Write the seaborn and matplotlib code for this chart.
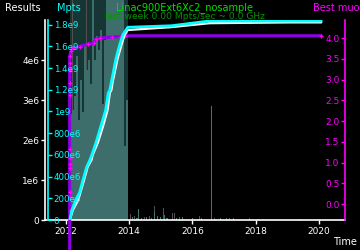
import matplotlib
matplotlib.use('Agg')
import matplotlib.pyplot as plt
import seaborn as sns

sns.set_style('dark')
plt.rcParams['font.family'] = ['DejaVu Sans']

# ---------------- data ----------------
# cumulative results (Results axis)
res_t = [2012.126, 2012.22, 2012.39, 2012.60, 2012.69, 2012.81, 2012.85, 2013.01, 2013.17,
         2013.32, 2013.39, 2013.44, 2013.48, 2013.64, 2013.76, 2013.86, 2013.96, 2015.31,
         2016.54, 2019.07, 2020.08]
res_v = [0, 0.25e6, 0.5e6, 1.07e6, 1.33e6, 1.5e6, 1.63e6, 1.93e6, 2.33e6,
         2.75e6, 3.18e6, 3.25e6, 3.45e6, 4.05e6, 4.38e6, 4.63e6, 4.75e6, 4.82e6,
         4.92e6, 4.94e6, 4.94e6]

# cumulative Mpts
mpts_t = [2012.126, 2012.19, 2012.315, 2012.44, 2012.54, 2012.66, 2012.76, 2012.82, 2012.95,
          2013.10, 2013.26, 2013.34, 2013.39, 2013.44, 2013.59, 2013.70, 2013.80, 2013.86,
          2013.96, 2015.34, 2016.54, 2020.08]
mpts_v = [0, 0.092e9, 0.184e9, 0.258e9, 0.369e9, 0.49e9, 0.553e9, 0.599e9, 0.71e9,
          0.857e9, 1.014e9, 1.17e9, 1.198e9, 1.272e9, 1.493e9, 1.613e9, 1.705e9, 1.733e9,
          1.776e9, 1.79e9, 1.834e9, 1.834e9]

# best muon
muon_t = [2012.12] * 13 + [2012.16, 2012.22, 2012.44, 2012.69, 2012.88, 2012.95, 2013.07,
                           2013.45, 2013.70, 2013.86, 2020.08]
muon_v = [-1.2, -0.17, 0.17, 0.29, 0.87, 0.97, 1.1, 1.33, 2.63, 2.92, 3.24, 3.41, 3.56,
          3.68, 3.77, 3.80, 3.86, 3.88, 3.99, 4.00, 4.03, 4.04, 4.06, 4.06]

# weekly activity (fraction of plot height)
bin_t = [2012.16, 2012.22, 2012.28, 2012.35, 2012.41, 2012.47, 2012.54, 2012.60, 2012.66,
         2012.73, 2012.79, 2012.85, 2012.92, 2012.98, 2013.04, 2013.10, 2013.17, 2013.23,
         2013.29, 2013.36, 2013.42, 2013.48, 2013.55, 2013.61, 2013.67, 2013.74, 2013.80,
         2013.86, 2013.92]
dark_h = [1.2, 1.2, 1.2, 1.2, 1.2, 1.2, 1.2, 1.2, 1.2, 1.2, 1.2, 1.2, 1.2, 1.2, 1.2,
          1.2, 1.2, 1.2, 1.2, 1.2, 1.2, 1.2, 1.2, 1.2, 1.2, 1.2, 1.2, 1.2, 1.2]
light_h = [0.53, 0.55, 0.62, 0.82, 0.50, 0.70, 0.54, 0.88, 0.75, 0.80, 0.68, 1.2, 0.80,
           0.92, 0.85, 0.95, 0.58, 0.90, 1.2, 1.2, 1.2, 1.2, 1.2, 1.2, 1.2, 1.2, 1.2,
           0.37, 0.60]
gray_t = [2011.97, 2012.22, 2012.35, 2012.66, 2014.05, 2014.18, 2014.49, 2014.65, 2014.81,
          2014.88, 2015.04, 2015.10, 2015.26, 2015.38, 2015.44, 2015.60, 2015.93, 2016.23,
          2016.43, 2016.70, 2017.17, 2017.80, 2018.46]
gray_h = [0.8, 1.2, 1.2, 1.2, 0.03, 0.02, 0.015, 0.02, 0.07,
          0.055, 0.065, 0.06, 0.045, 0.035, 0.035, 0.015, 0.07, 0.02,
          0.10, 0.01, 0.01, 0.01, 0.025]
teal_t = [2014.10, 2014.25, 2014.31, 2014.40, 2014.55, 2014.70, 2014.81, 2014.90, 2015.00,
          2015.12, 2015.20, 2015.50, 2015.70, 2016.00, 2016.30, 2016.62, 2016.90, 2017.08,
          2017.30, 2018.06, 2019.38]
teal_h = [0.015, 0.012, 0.055, 0.012, 0.015, 0.012, 0.04, 0.02, 0.015,
          0.025, 0.012, 0.012, 0.015, 0.012, 0.01, 0.57, 0.01, 0.01,
          0.008, 0.005, 0.005]

years = [2012, 2014, 2016, 2018, 2020]
res_ticks = [0, 1e6, 2e6, 3e6, 4e6]
res_labels = ['0', '1e6', '2e6', '3e6', '4e6']
mpts_ticks = [0, 0.2e9, 0.4e9, 0.6e9, 0.8e9, 1.0e9, 1.2e9, 1.4e9, 1.6e9, 1.8e9]
mpts_labels = ['0', '200e6', '400e6', '600e6', '800e6', '1e9', '1.2e9', '1.4e9', '1.6e9', '1.8e9']
muon_ticks = [0.0, 0.5, 1.0, 1.5, 2.0, 2.5, 3.0, 3.5, 4.0]
muon_labels = ['0.0', '0.5', '1.0', '1.5', '2.0', '2.5', '3.0', '3.5', '4.0']

# ---------------- figure ----------------
fig = plt.figure(figsize=(3.6, 2.5), dpi=100, facecolor='black')
rect = [45 / 360, 30 / 250, 300 / 360, 200 / 250]
ax_b = fig.add_axes(rect)
ax_b.set_facecolor('black')
ax_b.grid(False)

ax_b.bar(bin_t, dark_h, width=0.064, color='#163636', linewidth=0, clip_on=False)
ax_b.bar(gray_t, gray_h, width=0.024, color='#505050', linewidth=0, clip_on=False)
ax_b.bar(bin_t, light_h, width=0.064, color='#3d6e6c', linewidth=0, clip_on=False)
ax_b.bar(teal_t, teal_h, width=0.036, color='#3f7674', linewidth=0, clip_on=False)
ax_b.set_ylim(0, 1)
ax_b.yaxis.set_visible(False)
for s in ['left', 'right', 'top']:
    ax_b.spines[s].set_visible(False)
ax_b.spines['bottom'].set_color('white')
ax_b.spines['bottom'].set_linewidth(1.2)
ax_b.set_xticks(years)
ax_b.set_xticklabels([str(y) for y in years])
ax_b.tick_params(axis='x', colors='white', labelsize=6.5, length=3, width=1, pad=2,
                 direction='out', bottom=True)

# best muon axis (right, labels inside)
ax_m = ax_b.twinx()
sns.lineplot(x=muon_t, y=muon_v, ax=ax_m, estimator=None, sort=False, color='#9000e6',
             linewidth=2.2, marker='+', markersize=3.5, markeredgecolor='#ff00ff',
             markeredgewidth=0.9)
ax_m.lines[-1].set_clip_on(False)
ax_m.set_ylim(-0.386, 4.44)
ax_m.yaxis.tick_left()
ax_m.spines['left'].set_position(('axes', 1.0))
ax_m.spines['left'].set_visible(True)
ax_m.spines['left'].set_color('#ff00ff')
ax_m.spines['left'].set_linewidth(1.2)
for s in ['right', 'top', 'bottom']:
    ax_m.spines[s].set_visible(False)
ax_m.set_yticks(muon_ticks)
ax_m.set_yticklabels(muon_labels)
ax_m.tick_params(axis='y', colors='#ff00ff', labelsize=6.5, length=3, width=1, pad=1,
                 direction='out')
ax_m.set_ylabel('')
ax_m.grid(False)

# results axis (left)
ax_r = ax_b.twinx()
sns.lineplot(x=res_t, y=res_v, ax=ax_r, estimator=None, sort=False, color='white',
             linewidth=1.6)
ax_r.set_ylim(0, 5e6)
ax_r.yaxis.tick_left()
ax_r.spines['left'].set_visible(True)
ax_r.spines['left'].set_color('white')
ax_r.spines['left'].set_linewidth(1.2)
for s in ['right', 'top', 'bottom']:
    ax_r.spines[s].set_visible(False)
ax_r.set_yticks(res_ticks)
ax_r.set_yticklabels(res_labels)
ax_r.tick_params(axis='y', colors='white', labelsize=6.5, length=3, width=1, pad=1,
                 direction='out')
ax_r.set_ylabel('')
ax_r.grid(False)

# Mpts axis (inner left, labels inside)
ax_p = ax_b.twinx()
sns.lineplot(x=mpts_t, y=mpts_v, ax=ax_p, estimator=None, sort=False, color='#00ffff',
             linewidth=2.0)
ax_p.set_ylim(0, 1.843e9)
ax_p.yaxis.tick_right()
ax_p.spines['right'].set_position(('axes', 0.01))
ax_p.spines['right'].set_color('#00ffff')
ax_p.spines['right'].set_linewidth(1.2)
for s in ['left', 'top', 'bottom']:
    ax_p.spines[s].set_visible(False)
ax_p.set_yticks(mpts_ticks)
ax_p.set_yticklabels(mpts_labels)
ax_p.tick_params(axis='y', colors='#00ffff', labelsize=6.2, length=3, width=1, pad=1,
                 direction='out')
ax_p.set_ylabel('')
ax_p.grid(False)

ax_b.set_xlim(2011.34, 2020.83)
ax_b.set_xlabel('')

# texts
fig.text(0.513, 0.970, 'Linac900Ext6Xc2_nosample', color='#00e000', ha='center',
         va='center', fontsize=7)
fig.text(0.513, 0.934, 'last week 0.00 Mpts/sec ~ 0.0 GHz', color='#009600', ha='center',
         va='center', fontsize=6.6)
fig.text(0.0625, 0.968, 'Results', color='white', ha='center', va='center', fontsize=7)
fig.text(0.192, 0.968, 'Mpts', color='#00ffff', ha='center', va='center', fontsize=7)
fig.text(0.869, 0.968, 'Best muon', color='#ff00ff', ha='left', va='center', fontsize=7)
fig.text(0.957, 0.032, 'Time', color='white', ha='center', va='center', fontsize=7)

fig.savefig('out.png', dpi=100, facecolor='black')
